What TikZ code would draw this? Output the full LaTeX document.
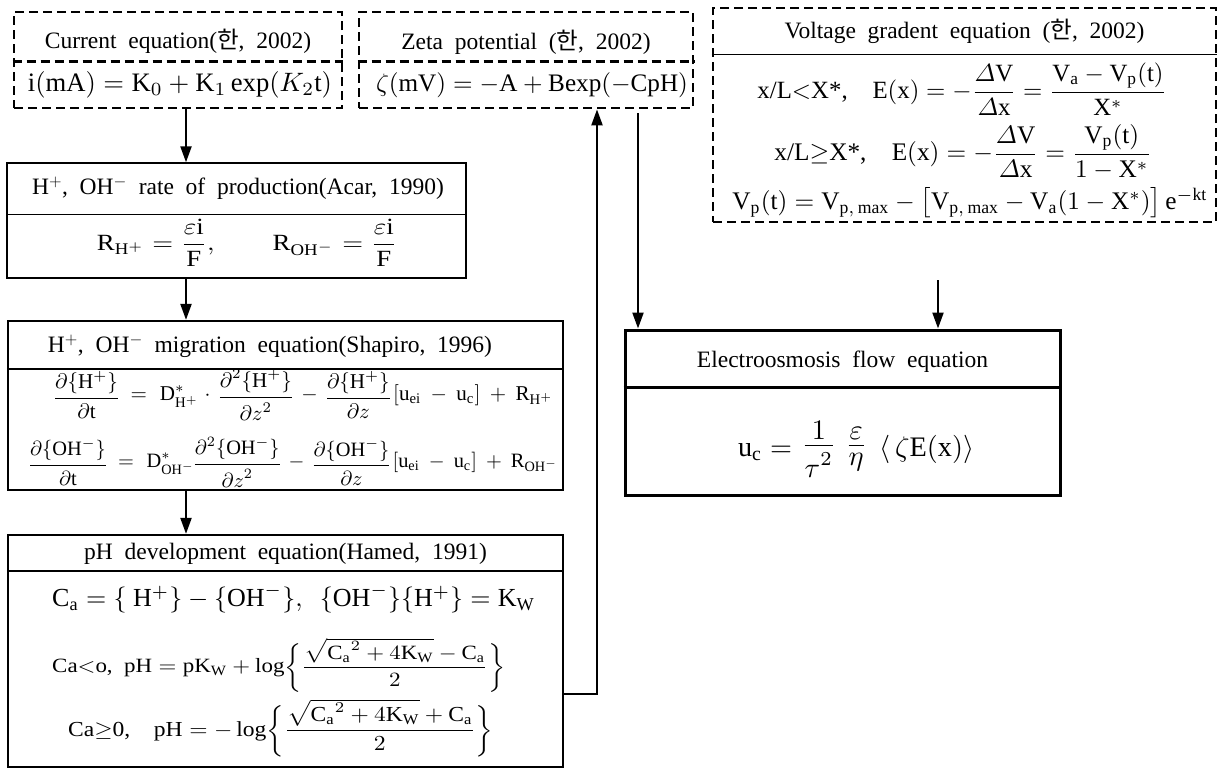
\RequirePackage{fix-cm}
\documentclass[tikz,border=0pt]{standalone}
\usepackage{amsmath}
\usepackage{graphicx}
\usepackage{fontspec}
\setmainfont{Liberation Serif}
\setmathrm{Liberation Serif}
\newfontfamily\kr{Noto Sans CJK KR}
\usetikzlibrary{arrows.meta}
\newcommand\myttlfont{\fontsize{23.5}{28}\selectfont\spaceskip=0.5em plus 0.1em\relax}
\newcommand\cfr[2]{\vcenter{\offinterlineskip\halign{\hfil$\displaystyle##$\hfil\cr #1\cr\noalign{\kern2pt\hrule height0.45pt\kern2.4pt}#2\cr}}}
\newcommand\widesp{\thickmuskip=11mu plus 2mu\medmuskip=8mu plus 2mu\relax}
\tikzset{
  dbox/.style={draw, line width=2.8pt, dash pattern=on 9pt off 5pt, rectangle, inner sep=0pt},
  ddiv/.style={line width=2.8pt, dash pattern=on 9pt off 5pt},
  sbox/.style={draw, line width=1.4pt, rectangle, inner sep=0pt},
  mbox/.style={draw, line width=2.3pt, rectangle, inner sep=0pt},
  tbox/.style={draw, line width=3pt, rectangle, inner sep=0pt},
  ttl/.style={font=\myttlfont, inner sep=0pt},
  eqn/.style={inner sep=0pt},
  arr/.style={line width=2.2pt, -{Triangle[length=16pt,width=11pt]}},
}
\begin{document}
\begin{tikzpicture}[x={(1pt,0pt)}, y={(0pt,-1pt)}]
\useasboundingbox[fill=white] (0,0) rectangle (1220,769);

% ---- Current equation
\node[dbox, minimum width=328pt, minimum height=96pt] (b1) at (178,60) {};
\draw[ddiv] ([yshift=-51pt]b1.north west) -- ([yshift=-51pt]b1.north east);
\node[ttl] (b1t) at (178,41) {Current equation({\kr 한}, 2002)};
\node[eqn] (b1e) at (180,85) {\resizebox{304pt}{!}{$\mathrm{i(mA)}=\mathrm{K}_0+\mathrm{K}_1\exp(K_2\mathrm{t})$}};

% ---- Zeta potential
\node[dbox, minimum width=334pt, minimum height=96pt] (zeta) at (526,60) {};
\draw[ddiv] ([yshift=-51pt]zeta.north west) -- ([yshift=-51pt]zeta.north east);
\node[ttl] (zt) at (526,42) {Zeta potential ({\kr 한}, 2002)};
\node[eqn] (ze) at (532,85) {\resizebox{312pt}{!}{$\zeta(\mathrm{mV})=-\mathrm{A}+\mathrm{Bexp}(-\mathrm{CpH})$}};

% ---- Voltage gradent equation
\node[dbox, minimum width=503pt, minimum height=214pt] (vg) at (964.5,115) {};
\draw[line width=1pt] ([yshift=-48pt]vg.north west) -- ([yshift=-48pt]vg.north east);
\node[ttl] (vgt) at (964.5,31) {Voltage gradent equation ({\kr 한}, 2002)};
\node[eqn] (vg1) at (962,89) {\resizebox{409pt}{!}{x/L$<$X*,\quad $\mathrm{E(x)}=-\dfrac{\varDelta\mathrm{V}}{\varDelta\mathrm{x}}=\dfrac{\mathrm{V_a}-\mathrm{V_p(t)}}{\mathrm{X}^{*}}$}};
\node[eqn] (vg2) at (963,152) {\resizebox{377pt}{!}{x/L$\geq$X*,\quad $\mathrm{E(x)}=-\dfrac{\varDelta\mathrm{V}}{\varDelta\mathrm{x}}=\dfrac{\mathrm{V_p(t)}}{1-\mathrm{X}^{*}}$}};
\node[eqn] (vg3) at (970,203) {\resizebox{475pt}{!}{$\mathrm{V_p(t)}=\mathrm{V}_{\mathrm{p,\,max}}-\bigl[\mathrm{V}_{\mathrm{p,\,max}}-\mathrm{V_a}(1-\mathrm{X}^{*})\bigr]\,\mathrm{e}^{-\mathrm{kt}}$}};

% ---- H+, OH- rate of production
\node[sbox, minimum width=459pt, minimum height=115pt] (hp) at (236.5,220.5) {};
\draw[line width=1.4pt] ([yshift=-52pt]hp.north west) -- ([yshift=-52pt]hp.north east);
\node[ttl] (hpt) at (238,188) {H$^{+}$, OH$^{-}$ rate of production(Acar, 1990)};
\node[eqn] (hpe) at (247,243) {\resizebox*{300pt}{47pt}{$\mathrm{R}_{\mathrm{H}^{+}}=\dfrac{\varepsilon\mathrm{i}}{\mathrm{F}},\qquad \mathrm{R}_{\mathrm{OH}^{-}}=\dfrac{\varepsilon\mathrm{i}}{\mathrm{F}}$}};

% ---- migration equation
\node[mbox, minimum width=555pt, minimum height=169pt] (mig) at (285.5,405.5) {};
\draw[line width=2.3pt] ([yshift=-49pt]mig.north west) -- ([yshift=-49pt]mig.north east);
\node[ttl] (migt) at (270,346) {H$^{+}$, OH$^{-}$ migration equation(Shapiro, 1996)};
\node[eqn, anchor=west] (mig1) at (55,395) {\resizebox{498pt}{!}{\widesp$\cfr{\partial\{\mathrm{H}^{+}\}}{\partial\mathrm{t}}=\mathrm{D}^{*}_{\mathrm{H}^{+}}\!\cdot\cfr{\partial^{2}\{\mathrm{H}^{+}\}}{\partial z^{2}}-\cfr{\partial\{\mathrm{H}^{+}\}}{\partial z}\,[\mathrm{u_{ei}}-\mathrm{u_c}]+\mathrm{R}_{\mathrm{H}^{+}}$}};
\node[eqn, anchor=west] (mig2) at (30,462) {\resizebox{528pt}{!}{\widesp$\cfr{\partial\{\mathrm{OH}^{-}\}}{\partial\mathrm{t}}=\mathrm{D}^{*}_{\mathrm{OH}^{-}}\cfr{\partial^{2}\{\mathrm{OH}^{-}\}}{\partial z^{2}}-\cfr{\partial\{\mathrm{OH}^{-}\}}{\partial z}\,[\mathrm{u_{ei}}-\mathrm{u_c}]+\mathrm{R}_{\mathrm{OH}^{-}}$}};

% ---- pH development equation
\node[mbox, minimum width=555pt, minimum height=232pt] (ph) at (285.5,651) {};
\draw[line width=2.3pt] ([yshift=-37pt]ph.north west) -- ([yshift=-37pt]ph.north east);
\node[ttl] (pht) at (285.5,554) {pH development equation(Hamed, 1991)};
\node[eqn, anchor=west] (ph1) at (52,599) {\resizebox{483pt}{!}{$\mathrm{C_a}=\{\ \mathrm{H}^{+}\}-\{\mathrm{OH}^{-}\},\ \ \{\mathrm{OH}^{-}\}\{\mathrm{H}^{+}\}=\mathrm{K_W}$}};
\node[eqn, anchor=west] (ph2) at (52,665) {\resizebox*{453pt}{54pt}{Ca$<$o,\ \ $\mathrm{pH}=\mathrm{pK_W}+\log\biggl\{\dfrac{\sqrt{\mathrm{C_a}^{2}+4\mathrm{K_W}}-\mathrm{C_a}}{2}\biggr\}$}};
\node[eqn, anchor=west] (ph3) at (68,728) {\resizebox*{425pt}{57pt}{Ca$\geq$0,\quad $\mathrm{pH}=-\log\biggl\{\dfrac{\sqrt{\mathrm{C_a}^{2}+4\mathrm{K_W}}+\mathrm{C_a}}{2}\biggr\}$}};

% ---- Electroosmosis flow equation
\node[tbox, minimum width=435pt, minimum height=165pt] (eo) at (842.5,412.5) {};
\draw[line width=3pt] ([yshift=-59pt]eo.north west) -- ([yshift=-59pt]eo.north east);
\node[ttl] (eot) at (842.5,362) {Electroosmosis flow equation};
\node[eqn] (eoe) at (856,449) {\resizebox{236pt}{!}{$\mathrm{u_c}=\,\cfr{1}{\tau^{2}}\;\;\cfr{\varepsilon}{\eta}\;\;\langle\,\zeta\mathrm{E(x)}\rangle$}};

% ---- connectors
\coordinate (ax) at (186,0);
\draw[arr] (ax |- b1.south) -- (ax |- hp.north);
\draw[arr] (ax |- hp.south) -- (ax |- mig.north);
\draw[arr] (ax |- mig.south) -- (ax |- ph.north);
\coordinate (ux) at (597,694);
\draw[arr] (ph.east |- ux) -| (ux |- zeta.south);
\coordinate (zb) at ([yshift=-4pt]zeta.south);
\coordinate (dx) at (638,0);
\draw[arr] (dx |- zb) -- (dx |- eo.north);
\coordinate (vx) at (938,280);
\draw[arr] (vx) -- (vx |- eo.north);
\end{tikzpicture}
\end{document}
